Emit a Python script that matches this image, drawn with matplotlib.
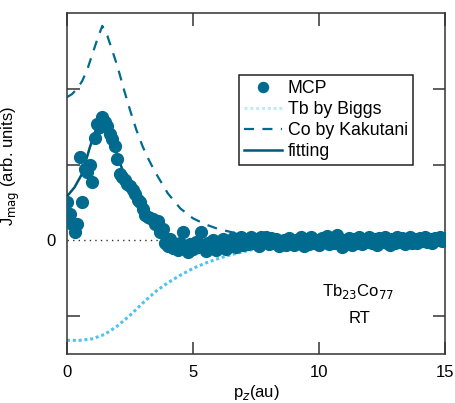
import matplotlib
matplotlib.use("Agg")
import matplotlib.pyplot as plt
import numpy as np

plt.rcParams["font.family"] = ["Liberation Sans", "DejaVu Sans"]

# MCP data, sampled every 0.1 au from 0 to 15
pz = np.round(np.arange(0, 15.05, 0.1), 1)
mcp = [
    0.50, 0.35, 0.22, 0.11, 0.22, 1.10, 0.50, 0.94, 0.90, 0.99,
    0.77, 1.35, 1.53, 1.49, 1.63, 1.56, 1.51, 1.40, 1.34, 1.25,
    1.07, 0.88, 0.83, 0.79, 0.75, 0.72, 0.66, 0.61, 0.53, 0.50,
    0.42, 0.33, 0.31, 0.29, 0.28, 0.22, 0.26, 0.11, 0.15, -0.04,
    -0.07, 0.02, -0.10, -0.06, -0.13, -0.03, 0.11, -0.08, -0.15, -0.05,
    -0.12, -0.02, -0.09, 0.11, -0.06, -0.14, -0.04, -0.10, 0.00, -0.13,
    -0.05, -0.08, 0.02, -0.11, -0.04, -0.07, 0.03, -0.09, -0.02, 0.04,
    -0.06, 0.01, -0.05, 0.05, -0.03, 0.02, -0.07, 0.04, -0.02, 0.05,
    -0.05, 0.03, -0.04, 0.02, -0.08, -0.03, 0.01, -0.06, 0.03, -0.02,
    -0.06, 0.00, -0.04, 0.05, -0.07, 0.02, -0.05, 0.04, -0.03, 0.01,
    -0.06, 0.03, -0.02, 0.06, -0.05, 0.02, -0.04, 0.07, -0.03, -0.09,
    0.01, -0.05, 0.03, -0.06, 0.02, -0.03, 0.04, -0.05, 0.01, -0.02,
    0.05, -0.04, 0.02, -0.06, 0.03, -0.02, 0.04, -0.03, -0.06, 0.02,
    -0.03, 0.05, -0.02, 0.03, -0.05, 0.01, 0.04, -0.03, 0.02, -0.04,
    0.03, -0.01, 0.05, -0.02, 0.02, -0.04, 0.03, 0.01, 0.04, -0.01,
    0.03,
]

# Co profile (Kakutani)
co_x = [0, 0.2, 0.4, 0.6, 0.8, 1.0, 1.2, 1.4, 1.6, 1.8, 2.0, 2.25, 2.5, 2.75, 3.0,
        3.25, 3.5, 3.75, 4.0, 4.5, 5.0, 5.5, 6.0, 6.5, 7.0, 8, 9, 10, 11, 12, 13, 14, 15]
co_y = [1.89, 1.93, 2.00, 2.10, 2.25, 2.45, 2.65, 2.83, 2.70, 2.50, 2.30, 2.00, 1.72, 1.46, 1.24,
        1.06, 0.90, 0.76, 0.62, 0.42, 0.29, 0.21, 0.15, 0.11, 0.08, 0.04, 0.02, 0.01, 0, 0, 0, 0, 0]

# Tb profile (Biggs)
tb_x = [0, 0.5, 1.0, 1.5, 2.0, 2.5, 3.0, 3.5, 4.0, 4.5, 5.0, 5.5, 6.0, 6.5, 7.0, 7.5,
        8, 9, 10, 11, 12, 13, 14, 15]
tb_y = [-1.32, -1.32, -1.30, -1.24, -1.13, -0.99, -0.83, -0.68, -0.56, -0.46, -0.37, -0.30,
        -0.24, -0.19, -0.15, -0.11, -0.08, -0.04, -0.02, -0.01, 0, 0, 0, 0]

# fitting curve
fit_x = [0, 0.3, 0.6, 0.9, 1.1, 1.3, 1.45, 1.6, 1.8, 2.0, 2.2, 2.4, 2.7, 3.0, 3.3, 3.6,
         4.0, 4.5, 5.0, 5.5, 6, 7, 8, 10, 12, 15]
fit_y = [0.58, 0.70, 0.88, 1.22, 1.42, 1.57, 1.60, 1.50, 1.33, 1.12, 0.93, 0.77, 0.62, 0.45,
         0.33, 0.22, 0.08, -0.02, -0.07, -0.08, -0.08, -0.06, -0.04, -0.02, 0, 0]

teal = "#006B8F"
light = "#4FC3F2"

fig = plt.figure(figsize=(4.55, 4.03), dpi=100)
ax = fig.add_axes([67 / 455, 49 / 403, 378 / 455, 341 / 403])

ax.axhline(0, color="#333333", lw=1.0, ls=(0, (1, 3)), zorder=1)
ax.plot(tb_x, tb_y, color=light, lw=2.2, ls=(0, (1, 0.9)), label="Tb by Biggs", zorder=2)
ax.plot(co_x, co_y, color=teal, lw=1.6, ls=(0, (4.5, 3.8)), label="Co by Kakutani", zorder=2)
ax.plot(fit_x, fit_y, color="#00577A", lw=1.8, label="fitting", zorder=2.5)
ax.plot(pz, mcp, "o", color=teal, ms=8.5, mec=teal, label="MCP", zorder=3)

ax.set_xlim(0, 15)
ax.set_ylim(-1.5, 3.0)
ax.set_xticks([0, 5, 10, 15])
ax.set_yticks([-1, 0, 1, 2])
ax.set_yticklabels(["", "0", "", ""])
ax.tick_params(direction="in", length=9, width=1.1, color="#333333", labelsize=12,
               top=True, right=True, pad=8)
ax.yaxis.get_major_ticks()[1].tick1line.set_visible(False)
for s in ax.spines.values():
    s.set_color("#333333")
    s.set_linewidth(1.1)

ax.set_xlabel("p$_z$(au)", fontsize=12, labelpad=2)
ax.set_ylabel("J$_{\\rm mag}$ (arb. units)", fontsize=12)
ax.yaxis.set_label_coords(-0.12, 0.55)

ax.text(11.55, -0.68, "Tb$_{23}$Co$_{77}$", fontsize=12, ha="center", va="center")
ax.text(11.6, -1.03, "RT", fontsize=12, ha="center", va="center")

handles, labels = ax.get_legend_handles_labels()
order = [labels.index(n) for n in ["MCP", "Tb by Biggs", "Co by Kakutani", "fitting"]]
leg = ax.legend([handles[i] for i in order], [labels[i] for i in order],
                loc="upper left", bbox_to_anchor=(0.455, 0.818), borderaxespad=0,
                fontsize=12.8, fancybox=False, framealpha=1, edgecolor="#222222",
                handlelength=2.1, handletextpad=0.35, labelspacing=0.22, borderpad=0.3,
                markerscale=0.85)
leg.get_frame().set_linewidth(1.1)
leg.legend_handles[1].set_alpha(0.35)

fig.savefig("out.png", dpi=100)
